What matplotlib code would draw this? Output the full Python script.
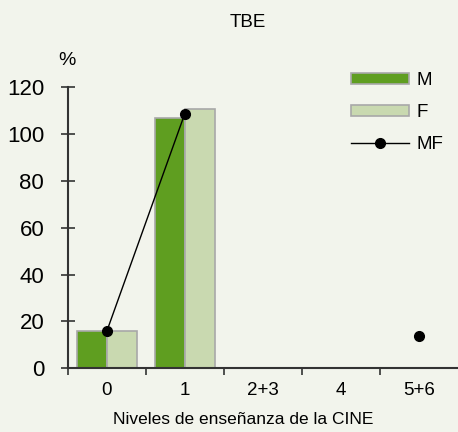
import numpy as np
import matplotlib
matplotlib.use('Agg')
import matplotlib.pyplot as plt

# Datos
niveles = ['0', '1', '2+3', '4', '5+6']
m_vals = [16, 107, np.nan, np.nan, np.nan]
f_vals = [16, 110.5, np.nan, np.nan, np.nan]
mf_vals = [15.8, 108.7, np.nan, np.nan, 13.9]

fondo = '#f2f4ec'
plt.rcParams['font.family'] = ['Liberation Sans', 'DejaVu Sans']

fig = plt.figure(figsize=(4.58, 4.32), dpi=100, facecolor=fondo)
ax = fig.add_axes([0.148, 0.1475, 0.852, 0.651])
ax.set_facecolor(fondo)

x = np.arange(len(niveles))
w = 0.385
b1 = ax.bar(x - w / 2, m_vals, w, color='#5f9e20', edgecolor='#a8a8a8', linewidth=1.2, label='M')
b2 = ax.bar(x + w / 2, f_vals, w, color='#c9d9b0', edgecolor='#a8a8a8', linewidth=1.2, label='F')
l1, = ax.plot(x, mf_vals, color='black', linewidth=1, marker='o', markersize=7, label='MF')

ax.set_xlim(-0.5, 4.5)
ax.set_ylim(0, 120)
ax.set_yticks(range(0, 121, 20))
ax.set_xticks(np.arange(-0.5, 4.5, 1))
ax.set_xticklabels([])
ax.set_xticks(x, minor=True)
ax.set_xticklabels(niveles, minor=True, fontsize=13.5)
ax.tick_params(axis='x', which='minor', length=0, pad=10)
ax.tick_params(axis='x', which='major', length=5, width=1.2, color='#333333')
ax.tick_params(axis='y', direction='inout', length=10, width=1.2, labelsize=16, color='#333333', pad=12)

for s in ['top', 'right']:
    ax.spines[s].set_visible(False)
for s in ['left', 'bottom']:
    ax.spines[s].set_linewidth(1.5)
    ax.spines[s].set_color('#333333')

fig.text(0.54, 0.949, 'TBE', ha='center', va='center', fontsize=13.5)
fig.text(0.147, 0.86, '%', ha='center', va='center', fontsize=14)
fig.text(0.531, 0.028, 'Niveles de enseñanza de la CINE', ha='center', va='center', fontsize=12.5)

ax.legend([b1, b2, l1], ['M', 'F', 'MF'], loc='upper left', bbox_to_anchor=(0.682, 1.113),
          frameon=False, fontsize=13.5, handlelength=3.1, handleheight=0.55,
          labelspacing=0.8, handletextpad=0.4)

fig.savefig('out.png', dpi=100, facecolor=fondo)
